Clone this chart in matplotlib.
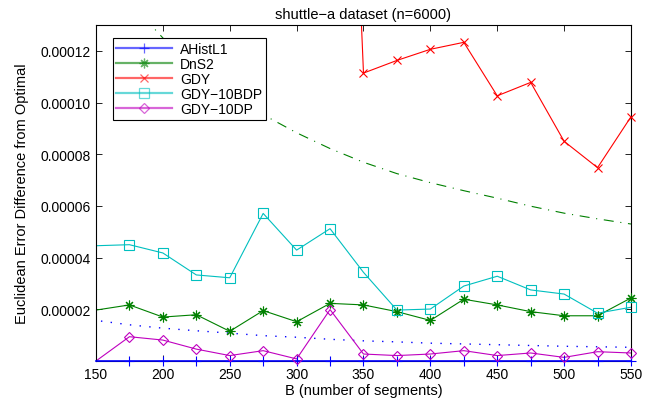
import numpy as np
import matplotlib
matplotlib.use("Agg")
import matplotlib.pyplot as plt
from matplotlib.lines import Line2D

plt.rcParams['font.family'] = ['Liberation Sans', 'DejaVu Sans']
plt.rcParams['font.size'] = 10

# number of segments (first point lies left of the visible range)
B = np.array([125, 150, 175, 200, 225, 250, 275, 300, 325, 350, 375, 400, 425, 450, 475, 500, 525, 550])

ahistl1 = np.zeros(len(B))
dns2 = np.array([1.77, 1.97, 2.17, 1.70, 1.79, 1.15, 1.95, 1.52, 2.23, 2.17, 1.91, 1.57, 2.39, 2.17, 1.91, 1.75, 1.75, 2.44]) * 1e-5
gdy = np.array([95.0, 85.0, 78.0, 70.0, 62.0, 58.0, 52.0, 47.0, 42.0, 11.14, 11.63, 12.06, 12.33, 10.26, 10.78, 8.50, 7.48, 9.45]) * 1e-5
gdy_10bdp = np.array([4.42, 4.46, 4.50, 4.18, 3.33, 3.22, 5.71, 4.29, 5.12, 3.43, 1.97, 2.01, 2.90, 3.28, 2.75, 2.59, 1.85, 2.08]) * 1e-5
gdy_10dp = np.array([-0.92, 0.0, 0.94, 0.81, 0.46, 0.21, 0.40, 0.08, 1.99, 0.27, 0.21, 0.27, 0.40, 0.21, 0.31, 0.14, 0.36, 0.31]) * 1e-5

# reference curves (no legend entry)
dotted_ref = np.array([1.78, 1.57, 1.40, 1.27, 1.17, 1.08, 0.98, 0.92, 0.84, 0.78, 0.74, 0.69, 0.66, 0.63, 0.60, 0.57, 0.55, 0.53]) * 1e-5
dashdot_ref = np.array([18.5, 15.9, 13.9, 12.5, 11.3, 10.32, 9.53, 8.83, 8.22, 7.69, 7.25, 6.90, 6.59, 6.30, 5.99, 5.72, 5.50, 5.30]) * 1e-5

c_blue = (0, 0, 1)
c_green = (0, 0.5, 0)
c_red = (1, 0, 0)
c_cyan = (0, 0.75, 0.75)
c_mag = (0.75, 0, 0.75)

ymax = 0.00013

fig = plt.figure(figsize=(6.57, 4.02), dpi=100)
ax = fig.add_axes([0.1461, 0.0995, 0.8143, 0.8358])

ax.plot(B, dotted_ref, linestyle=(0, (1, 6)), color=c_blue, lw=1.0)
ax.plot(B, dashdot_ref, linestyle=(0, (9, 6, 1, 6)), color=c_green, lw=0.8)

asterisk = (8, 2, 0)
series = [
    (ahistl1, c_blue, '+', 7, 'AHistL1'),
    (dns2, c_green, asterisk, 7, 'DnS2'),
    (gdy, c_red, 'x', 5.5, 'GDY'),
    (gdy_10bdp, c_cyan, 's', 7.5, 'GDY\u221210BDP'),
    (gdy_10dp, c_mag, 'D', 5, 'GDY\u221210DP'),
]

vis = (B >= 150)
handles = []
for y, col, mk, ms, lab in series:
    if lab == 'AHistL1':
        ax.plot(B[vis], y[vis], '-', color=col, lw=1.2, clip_on=False, zorder=5)
    else:
        ax.plot(B, y, '-', color=col, lw=0.8)
    keep = vis & (B > 150) & (y <= ymax) & (y >= 0)
    ax.plot(B[keep], y[keep], linestyle='none', marker=mk, ms=ms, mfc='none',
            mec=col, mew=0.8, clip_on=False, zorder=6)
    handles.append(Line2D([], [], color=col, lw=1.6, alpha=0.6, marker=mk, ms=ms,
                          mfc='none', mec=col, mew=0.9, label=lab))

ax.set_xlim(150, 550)
ax.set_ylim(0, ymax)
ax.set_xticks(np.arange(150, 551, 50))
yt = np.arange(2, 13, 2) * 1e-5
ax.set_yticks(yt)
ax.set_yticklabels(['%.5f' % v for v in yt])
ax.tick_params(direction='in', top=True, right=True, length=4, width=0.6, pad=4)
for s in ax.spines.values():
    s.set_linewidth(0.8)

ax.set_title('shuttle\u2212a dataset (n=6000)', fontsize=10.5, pad=5)
ax.set_xlabel('B (number of segments)', fontsize=10.5, labelpad=2)
ax.set_ylabel('Euclidean Error Difference from Optimal', fontsize=10.5, labelpad=8)

leg = ax.legend(handles=handles, loc='upper left', bbox_to_anchor=(0.1715, 0.9022),
                bbox_transform=fig.transFigure, borderaxespad=0, fancybox=False,
                edgecolor='black', framealpha=1, handlelength=4.0, labelspacing=0.08,
                handletextpad=0.6, borderpad=0.25, fontsize=10)
leg.get_frame().set_linewidth(0.8)

fig.savefig('out.png', dpi=100)
